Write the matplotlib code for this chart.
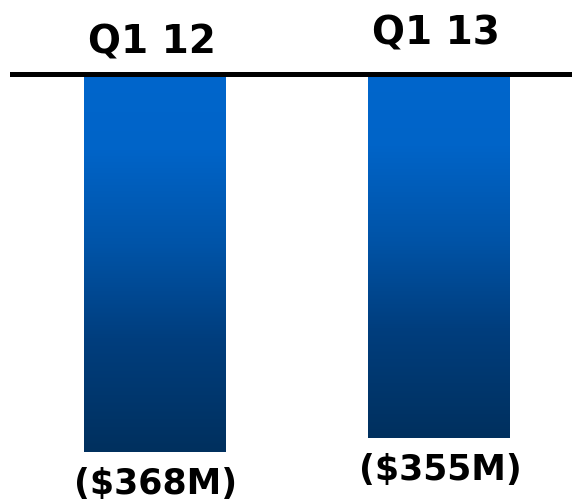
import numpy as np
import matplotlib
matplotlib.use("Agg")
import matplotlib.pyplot as plt
from matplotlib.colors import LinearSegmentedColormap

# quarterly figures, $M
quarters = ["Q1 12", "Q1 13"]
values = [368, 355]
value_labels = ["($368M)", "($355M)"]

# top-to-bottom shading of each bar
bar_cmap = LinearSegmentedColormap.from_list(
    "bar_fade",
    [(0.0, "#0066CC"), (0.2, "#0064C8"), (0.45, "#0054A8"),
     (0.7, "#003E7E"), (1.0, "#00305E")])

fig = plt.figure(figsize=(5.72, 5.01), dpi=100)
ax = fig.add_axes([12 / 572, 0, 560 / 572, 426.8 / 501])

x = np.arange(len(quarters))
bars = ax.bar(x, values, width=0.5, color="none", edgecolor="none")

# fill every bar with a vertical gradient clipped to its rectangle
grad = np.linspace(0, 1, 256).reshape(-1, 1)
for b in bars:
    x0, w, h = b.get_x(), b.get_width(), b.get_height()
    im = ax.imshow(grad, cmap=bar_cmap, aspect="auto",
                   extent=(x0, x0 + w, h, 0), origin="upper", zorder=2)
    im.set_clip_path(b)

ax.set_xlim(-0.502, 1.470)
ax.set_ylim(416, 0)

for side in ["left", "right", "bottom"]:
    ax.spines[side].set_visible(False)
ax.spines["top"].set_linewidth(3.6)
ax.spines["top"].set_zorder(3)
ax.set_xticks([])
ax.set_yticks([])

# header labels above the rule
q_offsets = [-20.4, -29.1]
for xi, q, off in zip(x, quarters, q_offsets):
    ax.text(xi - 0.01, off, q, ha="center", va="baseline", fontsize=28,
            fontweight="bold", clip_on=False)

# value labels under each bar
for xi, v, lab in zip(x, values, value_labels):
    ax.text(xi + 0.005, v + 41, lab, ha="center", va="baseline", fontsize=25,
            fontweight="bold", clip_on=False)

fig.savefig("out.png", dpi=100)
